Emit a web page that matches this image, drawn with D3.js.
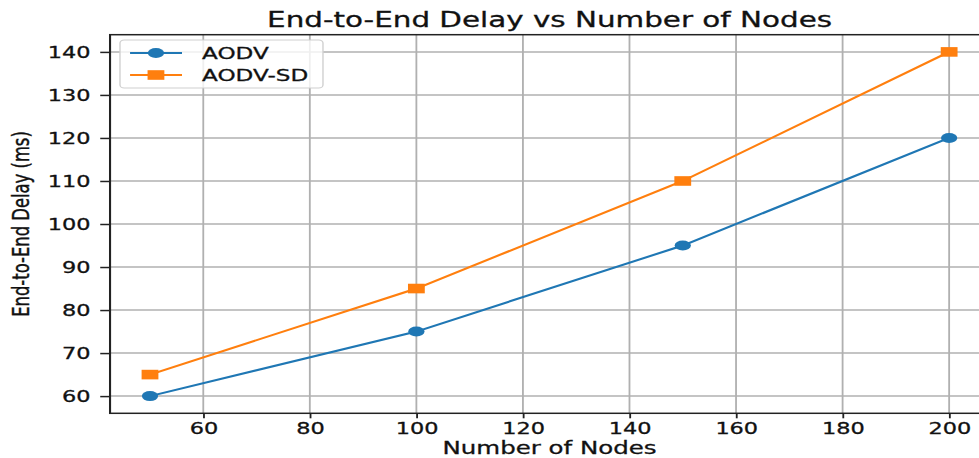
<html>
<head>
<script src="https://d3js.org/d3.v7.min.js"></script>
<style>
  body { margin: 0; background: #fff; }
  text { font-family: "DejaVu Sans", sans-serif; fill: #111; stroke: #111; stroke-width: 0.3px; }
</style>
</head>
<body>
<svg id="chart"></svg>
<script>
// data
const nodes = [50, 100, 150, 200];
const aodv = [60, 75, 95, 120];
const aodvSD = [65, 85, 110, 140];
const xTicks = [60, 80, 100, 120, 140, 160, 180, 200];
const yTicks = [60, 70, 80, 90, 100, 110, 120, 130, 140];
const seriesNames = ["AODV", "AODV-SD"];

// the original picture is stretched sideways, so draw in a narrower box and stretch it
const stretch = 1.4;
const W = 979, H = 458;
const vbW = W / stretch;

const svg = d3.select("#chart")
  .attr("width", W).attr("height", H)
  .attr("viewBox", `0 0 ${vbW} ${H}`)
  .attr("preserveAspectRatio", "none");

const plot = { left: 78.6, right: 706.5, top: 34.7, bottom: 413.3 };

const xScale = d3.scaleLinear().domain([42.5, 207.5]).range([plot.left, plot.right]);
const yScale = d3.scaleLinear().domain([56, 144]).range([plot.bottom, plot.top]);

// grid
svg.append("g").selectAll("line.vg").data(xTicks).join("line")
  .attr("x1", d => xScale(d)).attr("x2", d => xScale(d))
  .attr("y1", plot.top).attr("y2", plot.bottom)
  .attr("stroke", "#b0b0b0").attr("stroke-width", 1.3);
svg.append("g").selectAll("line.hg").data(yTicks).join("line")
  .attr("x1", plot.left).attr("x2", plot.right)
  .attr("y1", d => yScale(d)).attr("y2", d => yScale(d))
  .attr("stroke", "#b0b0b0").attr("stroke-width", 1.5);

// axes
const xAxis = svg.append("g")
  .attr("transform", `translate(0,${plot.bottom})`)
  .call(d3.axisBottom(xScale).tickValues(xTicks).tickSize(5).tickSizeOuter(0).tickPadding(4));
xAxis.select(".domain").remove();
xAxis.selectAll("line").attr("stroke", "#222").attr("stroke-width", 1.3);
xAxis.selectAll("text").attr("font-size", 16).attr("fill", "#111");

const yAxis = svg.append("g")
  .attr("transform", `translate(${plot.left},0)`)
  .call(d3.axisLeft(yScale).tickValues(yTicks).tickSize(7).tickSizeOuter(0).tickPadding(7));
yAxis.select(".domain").remove();
yAxis.selectAll("line").attr("stroke", "#222").attr("stroke-width", 1.5);
yAxis.selectAll("text").attr("font-size", 16).attr("fill", "#111").attr("dy", "0.36em");

// spines
svg.append("rect")
  .attr("x", plot.left).attr("y", plot.top)
  .attr("width", plot.right - plot.left).attr("height", plot.bottom - plot.top)
  .attr("fill", "none").attr("stroke", "#222").attr("stroke-width", 1.5);

// lines and markers
const colors = ["#1f77b4", "#ff7f0e"];
const series = [aodv, aodvSD];
const line = d3.line().x((d, i) => xScale(nodes[i])).y(d => yScale(d));

series.forEach((vals, s) => {
  svg.append("path").datum(vals)
    .attr("fill", "none").attr("stroke", colors[s]).attr("stroke-width", 2)
    .attr("d", line);
  if (s === 0) {
    svg.append("g").selectAll("ellipse").data(vals).join("ellipse")
      .attr("cx", (d, i) => xScale(nodes[i])).attr("cy", d => yScale(d))
      .attr("rx", 5.8).attr("ry", 5).attr("fill", colors[s]);
  } else {
    svg.append("g").selectAll("rect").data(vals).join("rect")
      .attr("x", (d, i) => xScale(nodes[i]) - 6).attr("y", d => yScale(d) - 4.8)
      .attr("width", 12).attr("height", 9.6).attr("fill", colors[s]);
  }
});

// legend
const lg = svg.append("g");
lg.append("rect")
  .attr("x", 85.7).attr("y", 40).attr("width", 145).attr("height", 48).attr("rx", 3)
  .attr("fill", "#fff").attr("fill-opacity", 0.8).attr("stroke", "#d0d0d0").attr("stroke-width", 1);
seriesNames.forEach((name, s) => {
  const y = 53 + s * 22;
  lg.append("line").attr("x1", 92.9).attr("x2", 130).attr("y1", y).attr("y2", y)
    .attr("stroke", colors[s]).attr("stroke-width", 2);
  if (s === 0) {
    lg.append("ellipse").attr("cx", 111.4).attr("cy", y).attr("rx", 5.8).attr("ry", 5).attr("fill", colors[s]);
  } else {
    lg.append("rect").attr("x", 105.4).attr("y", y - 4.8).attr("width", 12).attr("height", 9.6).attr("fill", colors[s]);
  }
  lg.append("text").attr("x", 144.3).attr("y", y + 6).attr("font-size", 16.5).text(name);
});

// title and labels
svg.append("text")
  .attr("x", (plot.left + plot.right) / 2).attr("y", 27)
  .attr("text-anchor", "middle").attr("font-size", 21)
  .text("End-to-End Delay vs Number of Nodes");

svg.append("text")
  .attr("x", (plot.left + plot.right) / 2).attr("y", 454)
  .attr("text-anchor", "middle").attr("font-size", 17.5)
  .text("Number of Nodes");

svg.append("text")
  .attr("transform", `translate(20.5,${(plot.top + plot.bottom) / 2}) rotate(-90)`)
  .attr("text-anchor", "middle").attr("font-size", 16.4)
  .text("End-to-End Delay (ms)");
</script>
</body>
</html>
